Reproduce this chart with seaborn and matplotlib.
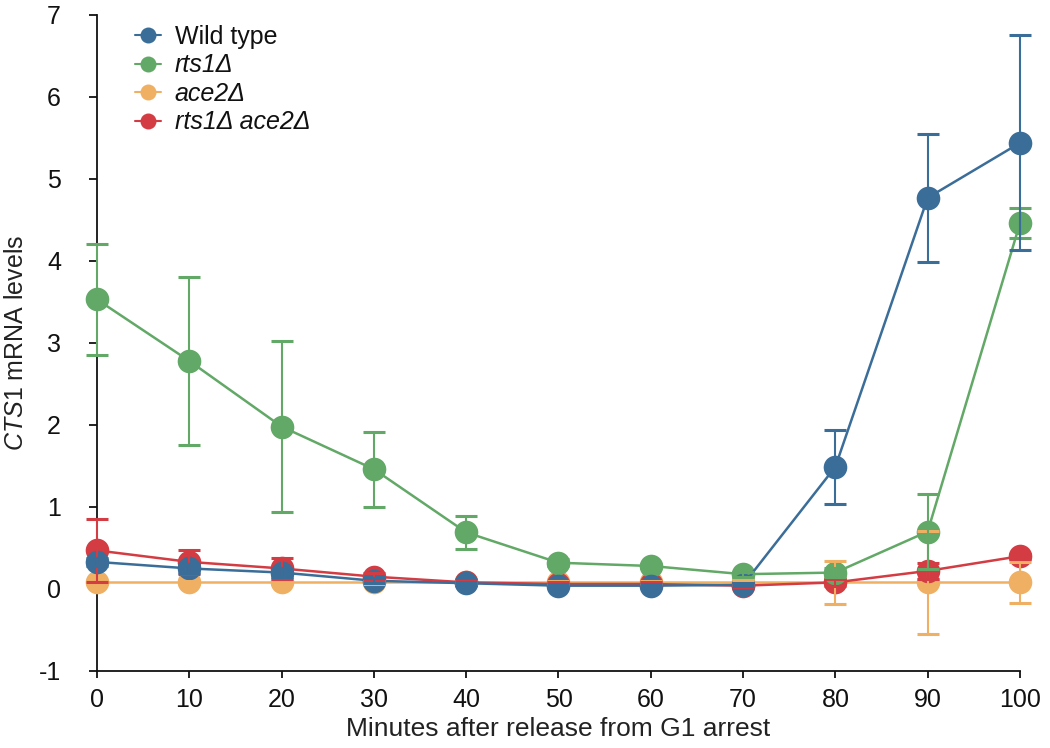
import numpy as np
import pandas as pd
import matplotlib
matplotlib.use("Agg")
import matplotlib.pyplot as plt
import seaborn as sns

minutes = [0, 10, 20, 30, 40, 50, 60, 70, 80, 90, 100]

wild_type = [0.33, 0.25, 0.20, 0.10, 0.07, 0.04, 0.04, 0.05, 1.49, 4.77, 5.44]
wild_type_err = [0.05, 0.05, 0.05, 0.03, 0.02, 0.02, 0.02, 0.02, 0.45, 0.78, 1.31]

rts1 = [3.53, 2.78, 1.98, 1.46, 0.69, 0.32, 0.28, 0.18, 0.20, 0.70, 4.46]
rts1_err = [0.68, 1.03, 1.04, 0.46, 0.20, 0.04, 0.03, 0.03, 0.05, 0.46, 0.18]

ace2 = [0.08, 0.08, 0.08, 0.08, 0.08, 0.08, 0.08, 0.08, 0.08, 0.08, 0.08]
ace2_err = [0.02, 0.02, 0.02, 0.02, 0.02, 0.02, 0.02, 0.03, 0.26, 0.63, 0.25]

rts1_ace2 = [0.47, 0.33, 0.25, 0.15, 0.08, 0.06, 0.06, 0.04, 0.08, 0.22, 0.40]
rts1_ace2_err = [0.38, 0.15, 0.13, 0.04, 0.02, 0.02, 0.02, 0.02, 0.04, 0.10, 0.03]

strains = ["Wild type", "rts1\u0394", "ace2\u0394", "rts1\u0394 ace2\u0394"]
colors = ["#3b6d99", "#62a866", "#efb064", "#d33c43"]

sns.set_theme(style="ticks")
plt.rcParams["font.family"] = ["Liberation Sans", "DejaVu Sans"]
plt.rcParams["mathtext.fontset"] = "custom"
plt.rcParams["mathtext.rm"] = "Liberation Sans"
plt.rcParams["mathtext.it"] = "Liberation Sans:italic"
plt.rcParams["axes.unicode_minus"] = False

series = {
    strains[0]: (wild_type, wild_type_err),
    strains[1]: (rts1, rts1_err),
    strains[2]: (ace2, ace2_err),
    strains[3]: (rts1_ace2, rts1_ace2_err),
}

rows = []
for name, (vals, errs) in series.items():
    for m, v, e in zip(minutes, vals, errs):
        rows.append({"minutes": m, "level": v, "err": e, "strain": name})
df = pd.DataFrame(rows)

fig = plt.figure(figsize=(10.5, 7.48), dpi=100)
ax = fig.add_axes([0.0924, 0.103, 0.879, 0.877])

palette = dict(zip(strains, colors))
# stacking: ace2 lowest, wild type on top
draw_order = [2, 3, 1, 0]
for rank, i in enumerate(draw_order):
    name = strains[i]
    sub = df[df["strain"] == name]
    sns.lineplot(data=sub, x="minutes", y="level", color=palette[name],
                 marker="o", markersize=17, markeredgewidth=0, linewidth=1.8,
                 ax=ax, label=None, legend=False, clip_on=False,
                 zorder=3 + rank)

for rank, i in enumerate(draw_order):
    name = strains[i]
    sub = df[df["strain"] == name]
    ax.errorbar(sub["minutes"], sub["level"], yerr=sub["err"], fmt="none",
                ecolor=palette[name], elinewidth=1.5, capsize=8, capthick=2.2,
                clip_on=False, zorder=10 + rank)

ax.set_xlim(0, 100)
ax.set_ylim(-1, 7)
ax.set_xticks(minutes)
ax.set_yticks(range(-1, 8))
ax.set_xlabel("Minutes after release from G1 arrest", fontsize=19, color="#222222", labelpad=4)
ax.set_ylabel(r"$\it{CTS1}$ mRNA levels", fontsize=18, color="#222222", labelpad=8)
ax.tick_params(axis="both", labelsize=18, width=1.3, color="#111111",
               labelcolor="#111111", direction="out")
ax.tick_params(axis="y", length=6, pad=20)
ax.tick_params(axis="x", length=5, pad=7)
for side in ("top", "right"):
    ax.spines[side].set_visible(False)
for side in ("left", "bottom"):
    ax.spines[side].set_linewidth(1.3)
    ax.spines[side].set_color("#111111")

handles = [plt.Line2D([], [], color=c, marker="o", markersize=11.5,
                      markeredgewidth=0, linewidth=1.5) for c in colors]
leg = ax.legend(handles, strains, loc="upper left", bbox_to_anchor=(0.03, 1.0),
                frameon=False, fontsize=18, handlelength=1.05, handletextpad=0.55,
                labelspacing=0.18, borderaxespad=0.0)
for t in leg.get_texts()[1:]:
    t.set_fontstyle("italic")
for t in leg.get_texts():
    t.set_color("#111111")

fig.savefig("out.png", dpi=100)
